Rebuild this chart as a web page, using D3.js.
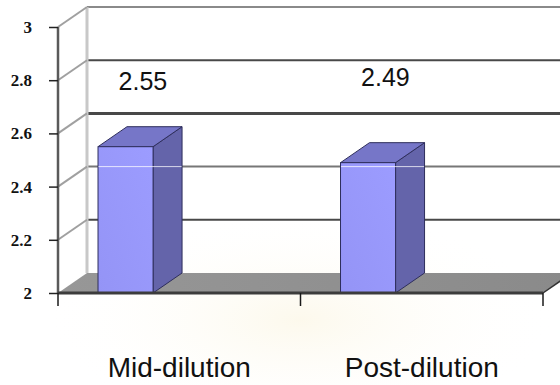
<!DOCTYPE html>
<html>
<head>
<meta charset="utf-8">
<script src="https://cdn.jsdelivr.net/npm/d3@7"></script>
<style>
  html, body { margin: 0; padding: 0; background: #fff; }
  svg { display: block; }
</style>
</head>
<body>
<svg id="chart" width="560" height="385"></svg>
<script>
// Data
const categories = ["Mid-dilution", "Post-dilution"];
const values = [2.55, 2.49];
const valueLabels = ["2.55", "2.49"];
const yTicks = [2, 2.2, 2.4, 2.6, 2.8, 3];
const yTickLabels = ["2", "2.2", "2.4", "2.6", "2.8", "3"];

// Layout
const plotLeft = 58, plotRight = 543, plotBottom = 293, plotTop = 27;
const depthX = 29, depthY = -20;        // back-wall offset of the 3D box
const labelBaseline = [90, 86];          // baselines of the value labels

const svg = d3.select("#chart");

const x = d3.scaleBand().domain(categories).range([plotLeft, plotRight]).paddingInner(0).paddingOuter(0);
const y = d3.scaleLinear().domain([2, 3]).range([plotBottom, plotTop]);
const bw = x.bandwidth();
const barOffset = bw * 0.165, barWidth = bw * 0.227;

// faint background wash
const defs = svg.append("defs");
const wash = defs.append("radialGradient").attr("id", "wash")
  .attr("cx", "0.5").attr("cy", "0.5").attr("r", "0.5");
wash.append("stop").attr("offset", "0").attr("stop-color", "#fbf5e0").attr("stop-opacity", 0.6);
wash.append("stop").attr("offset", "1").attr("stop-color", "#ffffff").attr("stop-opacity", 0);
svg.append("ellipse").attr("cx", 300).attr("cy", 320).attr("rx", 260).attr("ry", 110)
  .attr("fill", "url(#wash)");

const floorGrad = defs.append("linearGradient").attr("id", "floorGrad")
  .attr("x1", "0").attr("x2", "1").attr("y1", "0").attr("y2", "0");
floorGrad.append("stop").attr("offset", "0").attr("stop-color", "#979797");
floorGrad.append("stop").attr("offset", "1").attr("stop-color", "#8a8a8a");

const frontGrad = defs.append("linearGradient").attr("id", "frontGrad")
  .attr("x1", "0").attr("x2", "1").attr("y1", "1").attr("y2", "0");
frontGrad.append("stop").attr("offset", "0").attr("stop-color", "#9494f6");
frontGrad.append("stop").attr("offset", "1").attr("stop-color", "#9c9cff");

// Back wall gridlines
const g = svg.append("g");
g.selectAll("line.grid").data(yTicks.filter(v => v > 2)).join("line")
  .attr("class", "grid")
  .attr("x1", plotLeft + depthX).attr("x2", plotRight + depthX + 30)
  .attr("y1", d => y(d) + depthY).attr("y2", d => y(d) + depthY)
  .attr("stroke", d => d === 3 ? "#8a8a8a" : (d === 2.4 ? "#777" : "#484848"))
  .attr("stroke-width", d => d === 2.6 ? 3 : 2);

// Back wall left edge
g.append("line")
  .attr("x1", plotLeft + depthX).attr("x2", plotLeft + depthX)
  .attr("y1", y(3) + depthY).attr("y2", y(2) + depthY)
  .attr("stroke", "#c8c8c8").attr("stroke-width", 3);

// Side wall diagonals
g.selectAll("line.diag").data(yTicks.filter(v => v > 2)).join("line")
  .attr("class", "diag")
  .attr("x1", plotLeft).attr("y1", d => y(d))
  .attr("x2", plotLeft + depthX).attr("y2", d => y(d) + depthY)
  .attr("stroke", "#a0a0a0").attr("stroke-width", 2);

// Floor
g.append("path")
  .attr("d", `M${plotLeft},${y(2)} L${plotRight},${y(2)} L${plotRight + depthX},${y(2) + depthY} L${plotLeft + depthX},${y(2) + depthY} Z`)
  .attr("fill", "url(#floorGrad)");
g.append("line")
  .attr("x1", plotRight).attr("y1", y(2)).attr("x2", plotRight + depthX).attr("y2", y(2) + depthY)
  .attr("stroke", "#333").attr("stroke-width", 1.5);

// Front vertical axis
g.append("line")
  .attr("x1", plotLeft).attr("x2", plotLeft).attr("y1", y(3)).attr("y2", y(2))
  .attr("stroke", "#5a5a5a").attr("stroke-width", 2.5);

// y axis ticks and labels
const yAxis = d3.axisLeft(y).tickValues(yTicks)
  .tickFormat((d, i) => yTickLabels[i]).tickSize(9).tickPadding(17);
const ya = svg.append("g").attr("transform", `translate(${plotLeft},0)`).call(yAxis);
ya.select(".domain").remove();
ya.selectAll(".tick line").attr("stroke", "#222").attr("stroke-width", 1.5);
ya.selectAll(".tick text")
  .attr("font-family", "'Liberation Serif', 'Times New Roman', serif")
  .attr("font-weight", "bold").attr("font-size", 17).attr("fill", "#111");

// Bars
const bars = svg.append("g").selectAll("g.bar")
  .data(categories.map((c, i) => ({ c, v: values[i], label: valueLabels[i], i })))
  .join("g").attr("class", "bar");

bars.each(function (d) {
  const gb = d3.select(this);
  const x0 = x(d.c) + barOffset, x1 = x0 + barWidth;
  const yt = y(d.v), yb = y(2);
  // side face
  gb.append("path")
    .attr("d", `M${x1},${yb} L${x1 + depthX},${yb + depthY} L${x1 + depthX},${yt + depthY} L${x1},${yt} Z`)
    .attr("fill", "#6464aa").attr("stroke", "#2e2e5c").attr("stroke-width", 1);
  // top face
  gb.append("path")
    .attr("d", `M${x0},${yt} L${x1},${yt} L${x1 + depthX},${yt + depthY} L${x0 + depthX},${yt + depthY} Z`)
    .attr("fill", "#7676c8").attr("stroke", "#2e2e5c").attr("stroke-width", 1);
  // front face
  gb.append("rect")
    .attr("x", x0).attr("y", yt).attr("width", barWidth).attr("height", yb - yt)
    .attr("fill", "url(#frontGrad)").attr("stroke", "#2e2e5c").attr("stroke-width", 1);
  // gridline showing through the bar
  const yg = y(2.4) + depthY;
  gb.append("line")
    .attr("x1", x0 + 0.5).attr("x2", x1 + depthX - 0.5).attr("y1", yg).attr("y2", yg)
    .attr("stroke", "#ffffff").attr("stroke-opacity", 0.75).attr("stroke-width", 1);
});

// Floor front edge
svg.append("line")
  .attr("x1", plotLeft).attr("x2", plotRight).attr("y1", y(2)).attr("y2", y(2))
  .attr("stroke", "#3c3c3c").attr("stroke-width", 3);

// Category ticks
const tickXs = categories.map(c => x(c)).concat([x(categories[categories.length - 1]) + bw]);
svg.selectAll("line.xtick").data(tickXs).join("line")
  .attr("class", "xtick")
  .attr("x1", d => d).attr("x2", d => d).attr("y1", y(2)).attr("y2", y(2) + 13)
  .attr("stroke", "#1a1a1a").attr("stroke-width", 1.5);

// Category labels
svg.selectAll("text.cat").data(categories).join("text")
  .attr("class", "cat")
  .attr("x", d => x(d) + bw / 2).attr("y", 377)
  .attr("text-anchor", "middle")
  .attr("font-family", "'Liberation Sans', Arial, sans-serif")
  .attr("font-size", 28).attr("fill", "#111")
  .text(d => d);

// Value labels
svg.selectAll("text.val").data(categories).join("text")
  .attr("class", "val")
  .attr("x", d => x(d) + bw * 0.35)
  .attr("y", (d, i) => labelBaseline[i])
  .attr("text-anchor", "middle")
  .attr("font-family", "'Liberation Sans', Arial, sans-serif")
  .attr("font-size", 25).attr("fill", "#111")
  .text((d, i) => valueLabels[i]);
</script>
</body>
</html>
